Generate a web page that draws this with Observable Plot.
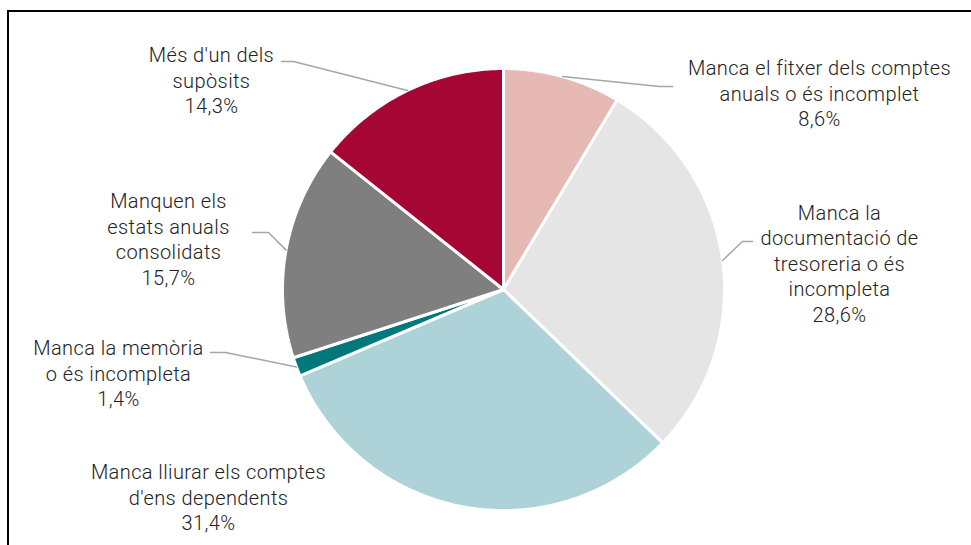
<!DOCTYPE html>
<html>
<head>
<meta charset="utf-8">
<script src="https://cdn.jsdelivr.net/npm/d3@7"></script>
<script src="https://cdn.jsdelivr.net/npm/@observablehq/plot@0.6"></script>
<style>
  html, body { margin: 0; padding: 0; background: #fff; }
  #wrap { position: relative; width: 971px; height: 545px; overflow: hidden; }
  #border { position: absolute; left: 7px; top: 10px; right: -5px; bottom: -5px;
            border-top: 2px solid #000; border-left: 2px solid #000; pointer-events: none; }
</style>
</head>
<body>
<div id="wrap"><div id="border"></div></div>
<script>
// ---- data ----
const categories = [
  "Manca el fitxer dels comptes anuals o és incomplet",
  "Manca la documentació de tresoreria o és incompleta",
  "Manca lliurar els comptes d'ens dependents",
  "Manca la memòria o és incompleta",
  "Manquen els estats anuals consolidats",
  "Més d'un dels supòsits"
];
const values = [8.6, 28.6, 31.4, 1.4, 15.7, 14.3];
const labelTexts = [
  "Manca el fitxer dels comptes\nanuals o és incomplet",
  "Manca la\ndocumentació de\ntresoreria o és\nincompleta",
  "Manca lliurar els comptes\nd'ens dependents",
  "Manca la memòria\no és incompleta",
  "Manquen els\nestats anuals\nconsolidats",
  "Més d'un dels\nsupòsits"
];

// ---- styles / layout ----
const sliceColors = ["#E6B9B4", "#E5E5E5", "#ADD2D8", "#00787B", "#7F7F7F", "#A60634"];
const R = 221;                // pie radius (px units)
const center = [503, 289];    // pie center in the 971x545 frame
// label block centers, relative to pie center
const labelPos = [[316, -197], [336, -27], [-295, 207], [-385, 83], [-335, -51], [-292, -210]];
// leader: elbow point and end point relative to pie center (null = no leader)
const leaders = [
  [[156, -203], [169, -203]],
  [[239, -48], [249, -48]],
  null,
  [[-278, 63], [-293, 63]],
  [[-235, -57], [-251, -57]],
  [[-210, -228], [-222, -228]]
];

const fmt = v => v.toFixed(1).replace(".", ",") + "%";
const total = d3.sum(values);
const toRad = frac => frac * 2 * Math.PI;

// slice polygons
const slicePts = [];
const mids = [];
let acc = 0;
values.forEach((v, i) => {
  const a0 = toRad(acc / total), a1 = toRad((acc + v) / total);
  mids.push((a0 + a1) / 2);
  slicePts.push({cat: categories[i], x: 0, y: 0});
  const n = Math.max(2, Math.ceil((a1 - a0) / (Math.PI / 360)));
  for (let k = 0; k <= n; k++) {
    const a = a0 + (a1 - a0) * k / n;
    slicePts.push({cat: categories[i], x: R * Math.sin(a), y: -R * Math.cos(a)});
  }
  slicePts.push({cat: categories[i], x: 0, y: 0});
  acc += v;
});

const leaderPts = [];
leaders.forEach((l, i) => {
  if (!l) return;
  const a = mids[i];
  leaderPts.push({i, x: R * Math.sin(a), y: -R * Math.cos(a)});
  leaderPts.push({i, x: l[0][0], y: l[0][1]});
  leaderPts.push({i, x: l[1][0], y: l[1][1]});
});

const labels = categories.map((c, i) => ({
  text: labelTexts[i] + "\n" + fmt(values[i]),
  x: labelPos[i][0], y: labelPos[i][1]
}));

const W = 971, H = 545;
const chart = Plot.plot({
  width: W, height: H,
  margin: 0,
  style: {background: "transparent", overflow: "visible"},
  x: {domain: [-center[0], W - center[0]], axis: null},
  y: {domain: [H - center[1], -center[1]], axis: null},
  color: {domain: categories, range: sliceColors},
  marks: [
    Plot.line(slicePts, {x: "x", y: "y", z: "cat", fill: "cat", stroke: "white", strokeWidth: 3, strokeLinejoin: "miter", curve: "linear"}),
    Plot.line(leaderPts, {x: "x", y: "y", z: "i", stroke: "#A6A6A6", strokeWidth: 1.5}),
    Plot.text(labels, {x: "x", y: "y", text: "text", fontSize: 20, lineHeight: 1.28,
      fill: "#222", fontFamily: "Roboto, 'Liberation Sans', sans-serif", fontWeight: 300, textAnchor: "middle"})
  ]
});
chart.querySelectorAll("text").forEach(t => t.style.letterSpacing = "0.4px");
document.getElementById("wrap").prepend(chart);
</script>
</body>
</html>
